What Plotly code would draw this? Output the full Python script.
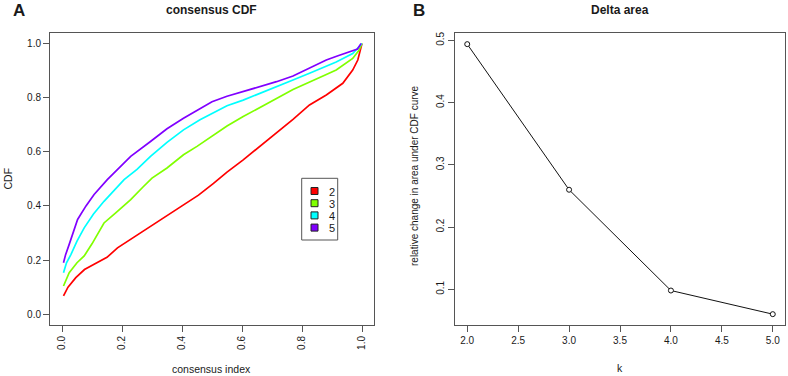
import plotly.graph_objects as go

# ---------------- data ----------------
cdf_x_k2 = [0.005, 0.02, 0.046, 0.075, 0.107, 0.15, 0.185, 0.24, 0.295, 0.35, 0.405, 0.455, 0.505,
            0.55, 0.604, 0.66, 0.715, 0.77, 0.825, 0.881, 0.936, 0.969, 0.986, 0.993, 1.0]
cdf_y_k2 = [0.068, 0.10, 0.135, 0.165, 0.184, 0.21, 0.245, 0.285, 0.325, 0.365, 0.405, 0.44, 0.483,
            0.525, 0.57, 0.62, 0.669, 0.72, 0.773, 0.81, 0.853, 0.902, 0.939, 0.975, 1.0]

cdf_x_k3 = [0.005, 0.024, 0.05, 0.074, 0.10, 0.14, 0.18, 0.229, 0.27, 0.30, 0.35, 0.405, 0.45, 0.51,
            0.55, 0.604, 0.66, 0.715, 0.77, 0.825, 0.87, 0.914, 0.95, 0.969, 0.99, 1.0]
cdf_y_k3 = [0.104, 0.153, 0.19, 0.215, 0.26, 0.337, 0.375, 0.423, 0.47, 0.503, 0.54, 0.589, 0.62, 0.665,
            0.695, 0.73, 0.765, 0.797, 0.83, 0.859, 0.88, 0.902, 0.93, 0.945, 0.975, 1.0]

cdf_x_k4 = [0.005, 0.015, 0.03, 0.05, 0.074, 0.105, 0.14, 0.18, 0.207, 0.25, 0.295, 0.35, 0.405, 0.46,
            0.50, 0.55, 0.604, 0.66, 0.715, 0.77, 0.825, 0.87, 0.914, 0.969, 1.0]
cdf_y_k4 = [0.153, 0.19, 0.221, 0.27, 0.319, 0.37, 0.417, 0.465, 0.497, 0.535, 0.583, 0.635, 0.681, 0.718,
            0.74, 0.77, 0.791, 0.815, 0.84, 0.865, 0.89, 0.91, 0.932, 0.963, 1.0]

cdf_x_k5 = [0.005, 0.012, 0.024, 0.052, 0.08, 0.107, 0.151, 0.168, 0.229, 0.295, 0.35, 0.405, 0.46,
            0.50, 0.55, 0.604, 0.66, 0.715, 0.77, 0.825, 0.881, 0.92, 0.958, 0.985, 0.997]
cdf_y_k5 = [0.19, 0.22, 0.258, 0.35, 0.40, 0.442, 0.497, 0.515, 0.583, 0.638, 0.685, 0.724, 0.76,
            0.785, 0.805, 0.822, 0.84, 0.859, 0.88, 0.908, 0.939, 0.955, 0.969, 0.98, 1.0]

k_labels = ["2", "3", "4", "5"]
k_colors = ["#FF0000", "#80FF00", "#00FFFF", "#8000FF"]

delta_k = [2, 3, 4, 5]
delta_area = [0.494, 0.26, 0.098, 0.06]

x_ticks_left = [0.0, 0.2, 0.4, 0.6, 0.8, 1.0]
y_ticks_left = [0.0, 0.2, 0.4, 0.6, 0.8, 1.0]
x_ticks_right = [2.0, 2.5, 3.0, 3.5, 4.0, 4.5, 5.0]
y_ticks_right = [0.1, 0.2, 0.3, 0.4, 0.5]

# ---------------- figure ----------------
W, H = 788, 376
FONT = "Liberation Sans, Arial, sans-serif"
TXT = "#1a1a1a"
BOX = "#555555"

def px(x):
    return x / W

def py(y):
    return 1 - y / H

fig = go.Figure()

series = [(cdf_x_k2, cdf_y_k2), (cdf_x_k3, cdf_y_k3), (cdf_x_k4, cdf_y_k4), (cdf_x_k5, cdf_y_k5)]
for (xs, ys), lab, col in zip(series, k_labels, k_colors):
    fig.add_trace(go.Scatter(x=xs, y=ys, mode="lines", line=dict(color=col, width=1.7),
                             name=lab, showlegend=False, xaxis="x", yaxis="y", hoverinfo="skip"))

fig.add_trace(go.Scatter(x=delta_k, y=delta_area, mode="lines+markers",
                         line=dict(color="#111111", width=1),
                         marker=dict(symbol="circle", size=5, color="white",
                                     line=dict(color="#111111", width=1)),
                         showlegend=False, xaxis="x2", yaxis="y2"))

axis_common = dict(showgrid=False, zeroline=False, showline=True, mirror=True,
                   linecolor=BOX, linewidth=1, ticks="outside", ticklen=6,
                   tickcolor=BOX, tickwidth=1,
                   tickfont=dict(family=FONT, size=10, color=TXT))

fig.update_layout(
    width=W, height=H,
    margin=dict(l=0, r=0, t=0, b=0),
    paper_bgcolor="white", plot_bgcolor="white",
    showlegend=False,
    xaxis=dict(domain=[px(50), px(374)], range=[-0.04, 1.04], tickvals=x_ticks_left,
               tickformat=".1f", tickangle=-90, anchor="y", **axis_common),
    yaxis=dict(domain=[py(325), py(32.7)], range=[-0.04, 1.04], tickvals=y_ticks_left,
               tickformat=".1f", tickangle=0, anchor="x", **axis_common),
    xaxis2=dict(domain=[px(455), px(785)], range=[1.88, 5.12], tickvals=x_ticks_right,
                tickformat=".1f", tickangle=0, anchor="y2", **axis_common),
    yaxis2=dict(domain=[py(325), py(32.7)], range=[0.0426, 0.5124], tickvals=y_ticks_right,
                tickformat=".1f", tickangle=-90, anchor="x2", **axis_common),
)

# legend box (R-style) built from the label / colour lists
LEG_L, LEG_R, LEG_T, LEG_B = 301.7, 337.7, 178.3, 240.0
fig.add_shape(type="rect", xref="paper", yref="paper",
              x0=px(LEG_L), x1=px(LEG_R), y0=py(LEG_B), y1=py(LEG_T),
              line=dict(color=BOX, width=1), fillcolor="white", layer="above")
for i, (lab, col) in enumerate(zip(k_labels, k_colors)):
    cy = 191.0 + i * 12.2
    fig.add_shape(type="rect", xref="paper", yref="paper",
                  x0=px(311), x1=px(318), y0=py(cy + 3.5), y1=py(cy - 3.5),
                  line=dict(color="#222222", width=1), fillcolor=col, layer="above")
    fig.add_annotation(text=lab, x=px(326.5), y=py(cy + 0.5), xref="paper", yref="paper",
                       xanchor="left", yanchor="middle", showarrow=False,
                       font=dict(family=FONT, size=11, color=TXT))

annotations = [
    dict(text="<b>A</b>", x=px(19), y=py(10.5), size=17),
    dict(text="<b>B</b>", x=px(419), y=py(10.5), size=17),
    dict(text="<b>consensus CDF</b>", x=px(212), y=py(10), size=12),
    dict(text="<b>Delta area</b>", x=px(620), y=py(10), size=12),
    dict(text="consensus index", x=px(212), y=py(369), size=10.5),
    dict(text="k", x=px(620), y=py(368), size=10.5),
    dict(text="CDF", x=px(7.5), y=py(179), size=10.5, angle=-90),
    dict(text="relative change in area under CDF curve", x=px(414), y=py(176), size=10, angle=-90),
]
for a in annotations:
    fig.add_annotation(text=a["text"], x=a["x"], y=a["y"], xref="paper", yref="paper",
                       xanchor="center", yanchor="middle", showarrow=False,
                       textangle=a.get("angle", 0),
                       font=dict(family=FONT, size=a["size"], color=TXT))

fig.write_html("out.html", config={"displayModeBar": False},
               post_script="document.body.style.margin='0';")
